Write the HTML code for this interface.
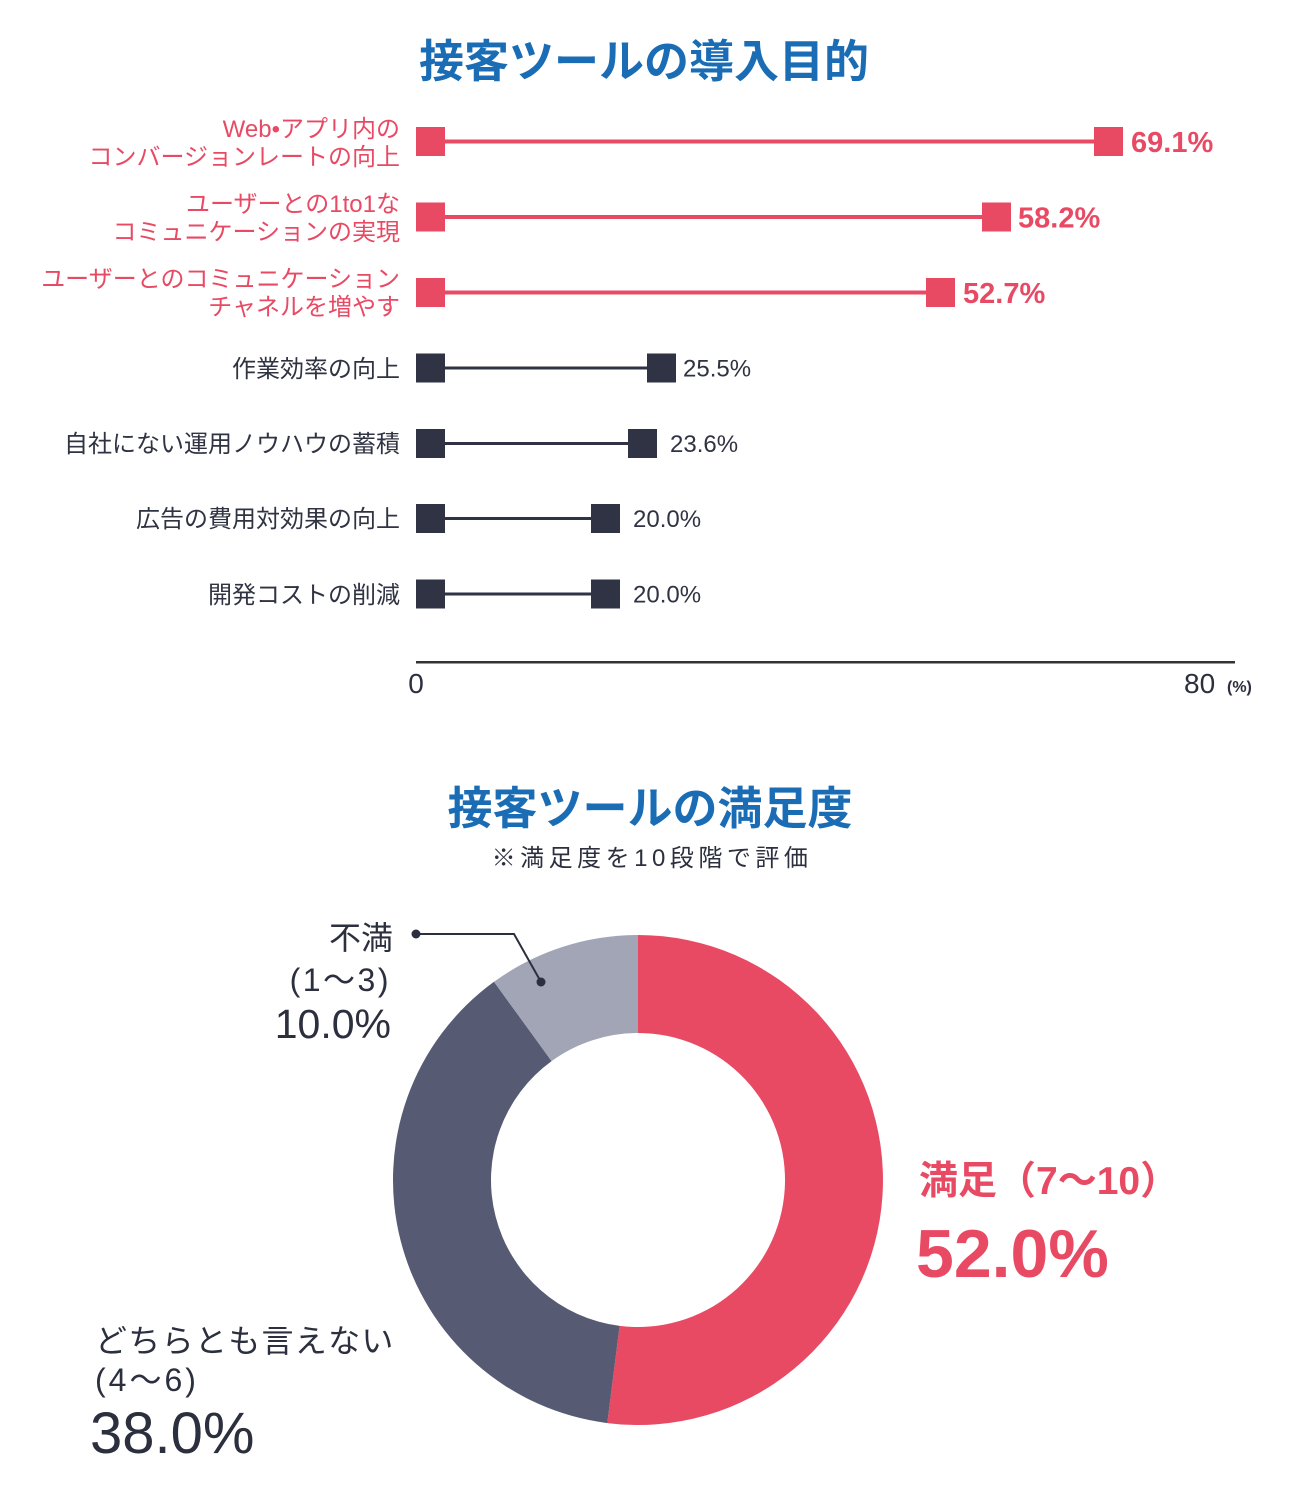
<!DOCTYPE html>
<html><head><meta charset="utf-8">
<style>
html,body{margin:0;padding:0;background:#fff;}
svg{display:block;}
text{font-family:"Liberation Sans","Noto Sans CJK JP",sans-serif;}
</style></head>
<body>
<svg width="1291" height="1501" viewBox="0 0 1291 1501" xmlns="http://www.w3.org/2000/svg">
<rect width="1291" height="1501" fill="#fff"/>
<!-- Title 1 -->
<text x="644" y="77" text-anchor="middle" font-size="45" font-weight="bold" fill="#1a6db5">接客ツールの導入目的</text>

<!-- Labels red -->
<g font-size="24" fill="#e84a64" text-anchor="end">
<text x="400" y="137">Web•アプリ内の</text>
<text x="400" y="165">コンバージョンレートの向上</text>
<text x="400" y="212">ユーザーとの1to1な</text>
<text x="400" y="240">コミュニケーションの実現</text>
<text x="400" y="287">ユーザーとのコミュニケーション</text>
<text x="400" y="315">チャネルを増やす</text>
</g>
<g font-size="24" fill="#2f3342" text-anchor="end">
<text x="400" y="377">作業効率の向上</text>
<text x="400" y="452">自社にない運用ノウハウの蓄積</text>
<text x="400" y="527">広告の費用対効果の向上</text>
<text x="400" y="603">開発コストの削減</text>
</g>

<!-- Red bars -->
<g fill="#e84a64" stroke="none">
<rect x="430" y="139.5" width="678" height="4"/>
<rect x="416" y="127" width="29" height="29"/>
<rect x="1094" y="127" width="29" height="29"/>
<rect x="430" y="215" width="567" height="4"/>
<rect x="416" y="202.5" width="29" height="29"/>
<rect x="982" y="202.5" width="29" height="29"/>
<rect x="430" y="290.5" width="511" height="4"/>
<rect x="416" y="278" width="29" height="29"/>
<rect x="926" y="278" width="29" height="29"/>
</g>
<g font-size="29" font-weight="bold" fill="#e84a64">
<text x="1131" y="152">69.1%</text>
<text x="1018" y="227.5">58.2%</text>
<text x="963" y="303">52.7%</text>
</g>

<!-- Dark bars -->
<g fill="#2f3344">
<rect x="430" y="366.5" width="232" height="3"/>
<rect x="416" y="353.5" width="29" height="29"/>
<rect x="647" y="353.5" width="29" height="29"/>
<rect x="430" y="442" width="213" height="3"/>
<rect x="416" y="429" width="29" height="29"/>
<rect x="628" y="429" width="29" height="29"/>
<rect x="430" y="517" width="176" height="3"/>
<rect x="416" y="504" width="29" height="29"/>
<rect x="591" y="504" width="29" height="29"/>
<rect x="430" y="592.5" width="176" height="3"/>
<rect x="416" y="579.5" width="29" height="29"/>
<rect x="591" y="579.5" width="29" height="29"/>
</g>
<g font-size="24" fill="#2f3342">
<text x="683" y="376.5">25.5%</text>
<text x="670" y="452">23.6%</text>
<text x="633" y="527">20.0%</text>
<text x="633" y="602.5">20.0%</text>
</g>

<!-- Axis -->
<rect x="416" y="661" width="819" height="2.5" fill="#333"/>
<text x="416" y="693" text-anchor="middle" font-size="28" fill="#2b2f3e">0</text>
<text x="1184" y="693" font-size="28" fill="#2b2f3e">80</text>
<text x="1227" y="692" font-size="16" font-weight="bold" fill="#2b2f3e">(%)</text>

<!-- Title 2 -->
<text x="650" y="824" text-anchor="middle" font-size="45" font-weight="bold" fill="#1a6db5">接客ツールの満足度</text>
<text x="652" y="866" text-anchor="middle" font-size="24" letter-spacing="4.5" fill="#2b2f3e">※満足度を10段階で評価</text>

<!-- Donut -->
<path d="M638,935 A245,245 0 1 1 607.29,1423.07 L619.58,1325.84 A147,147 0 1 0 638,1033 Z" fill="#e84a64"/>
<path d="M607.29,1423.07 A245,245 0 0 1 493.99,981.79 L551.59,1061.07 A147,147 0 0 0 619.58,1325.84 Z" fill="#565a73"/>
<path d="M493.99,981.79 A245,245 0 0 1 638,935 L638,1033 A147,147 0 0 0 551.59,1061.07 Z" fill="#a2a5b6"/>

<!-- Leader -->
<polyline points="416,934 514,934 541,982" fill="none" stroke="#2b2f3e" stroke-width="2"/>
<circle cx="416" cy="934" r="4.5" fill="#2b2f3e"/>
<circle cx="541" cy="982" r="4.5" fill="#2b2f3e"/>

<!-- Donut labels -->
<g fill="#2b2f3e" text-anchor="end">
<text x="393" y="949" font-size="32">不満</text>
<text x="391" y="991" font-size="32" letter-spacing="2.5">(1〜3)</text>
<text x="391" y="1038" font-size="41">10.0%</text>
</g>
<text x="919" y="1194" font-size="39" font-weight="bold" fill="#e84a64">満足（7〜10）</text>
<text x="916" y="1277" font-size="68" font-weight="bold" fill="#e84a64">52.0%</text>

<g fill="#2b2f3e">
<text x="95" y="1352" font-size="32" letter-spacing="1.3">どちらとも言えない</text>
<text x="95" y="1391" font-size="32" letter-spacing="3">(4〜6)</text>
<text x="90" y="1453" font-size="58">38.0%</text>
</g>
</svg>
</body></html>
